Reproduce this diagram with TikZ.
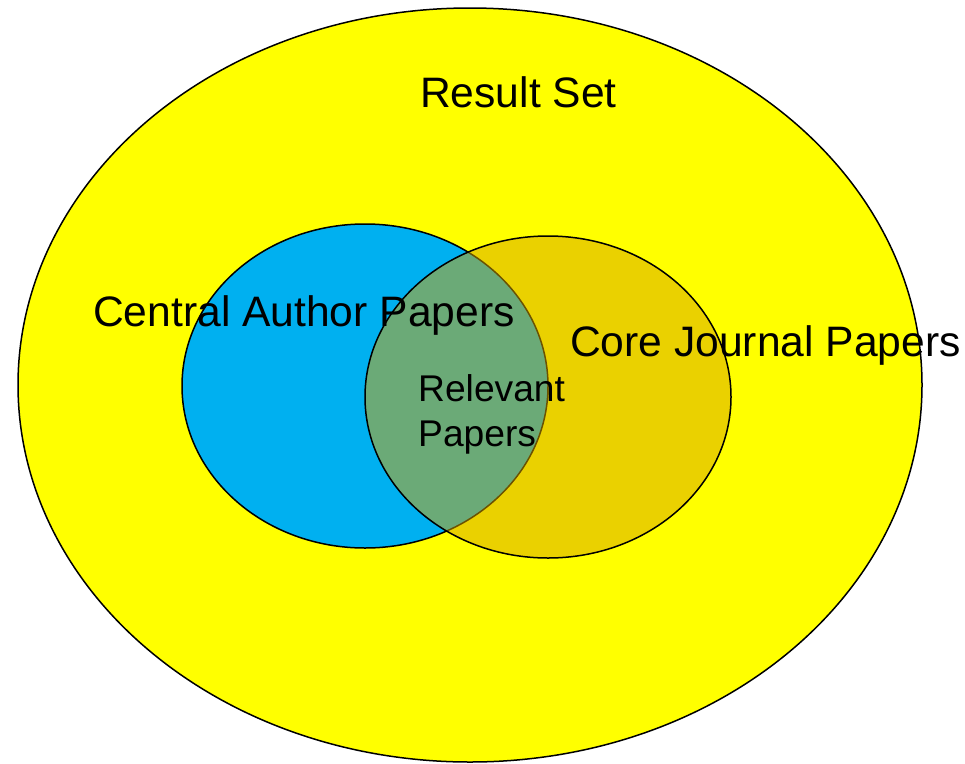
\documentclass[tikz,border=0pt]{standalone}
\usepackage{fontspec}
\setmainfont{Liberation Sans}
\definecolor{resultyellow}{RGB}{255,255,0}
\definecolor{authorblue}{RGB}{0,176,240}
\definecolor{journalgold}{RGB}{215,165,0}
\begin{document}
\begin{tikzpicture}[x=1pt,y=-1pt,
  setline/.style={draw=black,line width=1.5pt},
  bigtext/.style={anchor=base west,inner sep=0pt,font=\fontsize{42.6}{48}\selectfont},
  smalltext/.style={anchor=base west,inner sep=0pt,align=left,font=\fontsize{37.2}{45}\selectfont}]
\useasboundingbox (0,0) rectangle (965,763);
\fill[white] (0,0) rectangle (965,763);
% Result set
\path[setline,fill=resultyellow] (470,385) ellipse [x radius=452,y radius=377];
% Central author papers
\path[setline,fill=authorblue] (365,386) ellipse [x radius=183,y radius=162];
% Core journal papers (semi-transparent fill)
\fill[journalgold,fill opacity=0.5] (548,397) ellipse [x radius=183,y radius=161];
\draw[black,line width=1.5pt] (548,397) ellipse [x radius=183,y radius=161];
\node[bigtext] (rs) at (420,107) {Result Set};
\node[bigtext] (cap) at (93,326) {Central Author Papers};
\node[bigtext] (cjp) at (570,356) {Core Journal Papers};
\node[smalltext] (rel) at (418,401) {Relevant};
\node[smalltext] (relp) at (418,446) {Papers};
\end{tikzpicture}
\end{document}
